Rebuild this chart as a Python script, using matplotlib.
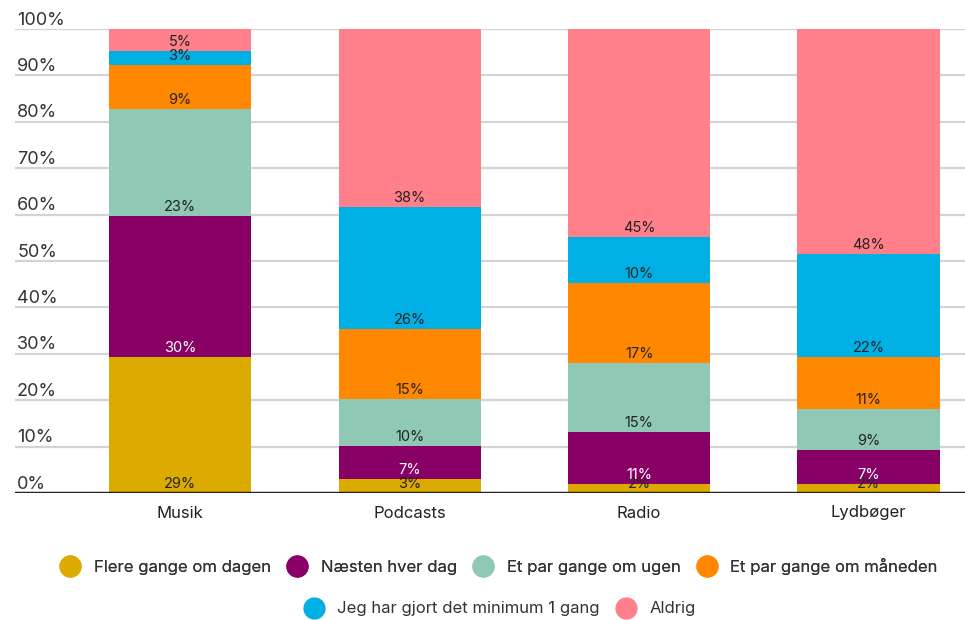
import numpy as np
import matplotlib.pyplot as plt
from matplotlib.lines import Line2D
from matplotlib.transforms import blended_transform_factory, offset_copy

plt.rcParams['font.family'] = ['Inter', 'DejaVu Sans']

categories = ['Musik', 'Podcasts', 'Radio', 'Lydbøger']
series = ['Flere gange om dagen', 'Næsten hver dag', 'Et par gange om ugen',
          'Et par gange om måneden', 'Jeg har gjort det minimum 1 gang', 'Aldrig']
values = {
    'Flere gange om dagen': [29.3, 3.0, 1.9, 1.9],
    'Næsten hver dag': [30.4, 7.1, 11.2, 7.4],
    'Et par gange om ugen': [23.1, 10.2, 14.9, 8.8],
    'Et par gange om måneden': [9.4, 15.0, 17.3, 11.2],
    'Jeg har gjort det minimum 1 gang': [3.1, 26.3, 9.9, 22.2],
    'Aldrig': [4.7, 38.4, 44.8, 48.5],
}
colors = ['#DDAA00', '#880066', '#8FC8B4', '#FF8800', '#00B0E4', '#FF7F8A']
label_colors = ['#222222', 'white', '#222222', '#222222', '#222222', '#222222']
yticks = [0, 10, 20, 30, 40, 50, 60, 70, 80, 90, 100]

fig = plt.figure(figsize=(9.65, 6.2), dpi=100)
ax = fig.add_axes([15 / 965, 1 - 493 / 620, 950 / 965, (493 - 29) / 620])

x = np.arange(len(categories))
bottom = np.zeros(len(categories))
for s, c, lc in zip(series, colors, label_colors):
    v = np.array(values[s])
    ax.bar(x, v, width=0.62, bottom=bottom, color=c, zorder=2)
    for xi, b, vi in zip(x, bottom, v):
        t = offset_copy(ax.transData, fig=fig, x=0, y=1.3, units='points')
        ax.text(xi, b, f'{vi:.0f}%', ha='center', va='bottom', fontsize=10.5,
                color=lc, transform=t, zorder=3)
    bottom += v

ax.set_xlim(-0.72, 3.42)
ax.set_ylim(0, 100)
for sp in ax.spines.values():
    sp.set_visible(False)
ax.set_yticks([])
ax.set_xticks(x)
ax.set_xticklabels(categories, fontsize=12, color='#222222')
ax.tick_params(axis='x', length=0, pad=9)

for yv in yticks:
    if yv == 0:
        ax.axhline(0, color='#222222', lw=2.5, zorder=4)
    else:
        ax.axhline(yv, color='#d3d3d3', lw=1.6, zorder=1)
    tr = offset_copy(blended_transform_factory(ax.transAxes, ax.transData),
                     fig=fig, x=1.5, y=0.3, units='points')
    ax.text(0, yv, f'{yv}%', ha='left', va='bottom', fontsize=13,
            color='#333333', transform=tr)

handles = [Line2D([], [], marker='o', ls='', markersize=15, color=c) for c in colors]
leg_kw = dict(loc='center', frameon=False, fontsize=12, handletextpad=0.8,
              columnspacing=1.0, handlelength=1.2, labelcolor='#333333')
leg1 = fig.legend(handles[:4], series[:4], bbox_to_anchor=(499 / 965, 1 - 566 / 620),
                  ncol=4, **leg_kw)
fig.add_artist(leg1)
fig.legend(handles[4:], series[4:], bbox_to_anchor=(500 / 965, 1 - 609 / 620),
           ncol=2, **leg_kw)

fig.savefig('out.png', dpi=100)
